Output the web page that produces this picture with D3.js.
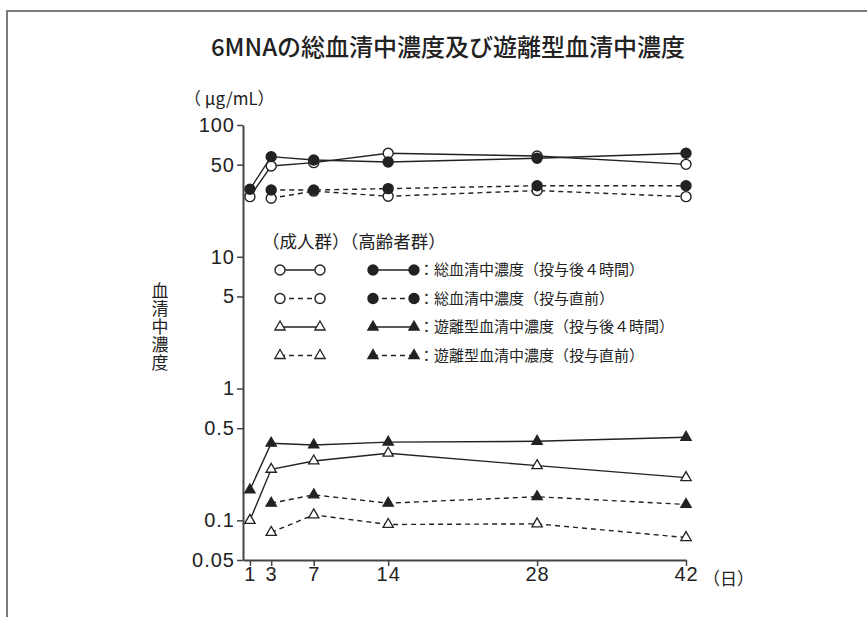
<!DOCTYPE html>
<html>
<head>
<meta charset="utf-8">
<script src="https://cdn.jsdelivr.net/npm/d3@7"></script>
<style>
  body{margin:0;background:#fff;}
  text{fill:#222;}
</style>
</head>
<body>
<svg id="chart" width="867" height="617"></svg>
<script>
// data
const days = [1, 3, 7, 14, 28, 42];
const daysPre = [3, 7, 14, 28, 42];
const adultTotal4h = [28.6, 48.9, 51.8, 61.0, 58.2, 50.3];
const elderTotal4h = [32.5, 57.5, 54.3, 52.4, 55.9, 61.0];
const adultTotalPre = [27.8, 31.5, 28.8, 31.8, 28.6];
const elderTotalPre = [32.1, 32.1, 32.9, 34.6, 34.6];
const adultFree4h = [0.100, 0.244, 0.282, 0.323, 0.260, 0.211];
const elderFree4h = [0.170, 0.385, 0.373, 0.392, 0.398, 0.427];
const adultFreePre = [0.081, 0.110, 0.093, 0.094, 0.074];
const elderFreePre = [0.135, 0.156, 0.135, 0.151, 0.132];
const yTicks = [0.05, 0.1, 0.5, 1, 5, 10, 50, 100];
const legendLabels = ['総血清中濃度（投与後４時間）','総血清中濃度（投与直前）','遊離型血清中濃度（投与後４時間）','遊離型血清中濃度（投与直前）'];

const series = [
  {x: days,    y: adultTotal4h,  shape:'circle',   fill:false, dash:false},
  {x: days,    y: elderTotal4h,  shape:'circle',   fill:true,  dash:false},
  {x: daysPre, y: adultTotalPre, shape:'circle',   fill:false, dash:true},
  {x: daysPre, y: elderTotalPre, shape:'circle',   fill:true,  dash:true},
  {x: days,    y: adultFree4h,   shape:'triangle', fill:false, dash:false},
  {x: days,    y: elderFree4h,   shape:'triangle', fill:true,  dash:false},
  {x: daysPre, y: adultFreePre,  shape:'triangle', fill:false, dash:true},
  {x: daysPre, y: elderFreePre,  shape:'triangle', fill:true,  dash:true}
];

const svg = d3.select('#chart');
const ink = '#222';
const cjk = '"Noto Sans CJK JP", sans-serif';
const num = '"Liberation Sans", Arial, sans-serif';

// frame
svg.append('rect').attr('x',7).attr('y',11).attr('width',900).attr('height',700)
  .attr('fill','none').attr('stroke','#7a7a7a').attr('stroke-width',2);

svg.append('text').attr('x',448).attr('y',56).attr('text-anchor','middle')
  .style('font-family',cjk).style('font-size','24px').style('font-weight','500')
  .text('6MNAの総血清中濃度及び遊離型血清中濃度');

const x = d3.scaleLinear().domain([0.35,42]).range([243,686]);
const y = d3.scaleLog().domain([0.05,100]).range([560,125]);

const gy = svg.append('g').attr('transform','translate(243,0)')
  .call(d3.axisLeft(y).tickValues(yTicks).tickFormat(d=>String(d)).tickSize(6).tickSizeOuter(0));
const gx = svg.append('g').attr('transform','translate(0,560)')
  .call(d3.axisBottom(x).tickValues(days).tickSize(6).tickSizeOuter(0));
[gy,gx].forEach(g=>{
  g.select('.domain').attr('stroke','#444').attr('stroke-width',2);
  g.selectAll('.tick line').attr('stroke','#444').attr('stroke-width',1.5);
  g.selectAll('.tick text').attr('fill',ink).style('font-family',num).style('letter-spacing','1px');
});
gy.selectAll('.tick text').style('font-size','20px').attr('x',-8);
gx.selectAll('.tick text').style('font-size','20px').attr('y',7);

svg.append('text').attr('x',703).attr('y',585).style('font-family',cjk).style('font-size','17px').text('（日）');
svg.append('text').attr('x',184).attr('y',105).style('font-family',cjk).style('font-size','17px').text('（ μg/mL）');

// vertical y title
svg.append('text').attr('x',160).attr('y',282)
  .style('writing-mode','vertical-rl').style('letter-spacing','1px')
  .style('font-family',cjk).style('font-size','17px').text('血清中濃度');

const tri = d3.symbol().type(d3.symbolTriangle).size(46);
function marker(g, cx, cy, s){
  if(s.shape==='circle'){
    g.append('circle').attr('cx',cx).attr('cy',cy).attr('r',5)
      .attr('fill',s.fill?ink:'#fff').attr('stroke',ink).attr('stroke-width',1.4);
  } else {
    g.append('path').attr('d',tri).attr('transform',`translate(${cx},${cy})`)
      .attr('fill',s.fill?ink:'#fff').attr('stroke',ink).attr('stroke-width',1.3);
  }
}

const line = d3.line().x(d=>x(d[0])).y(d=>y(d[1]));
const plot = svg.append('g');
series.forEach(s=>{
  const pts = s.x.map((d,i)=>[d,s.y[i]]);
  plot.append('path').attr('d',line(pts)).attr('fill','none').attr('stroke',ink)
    .attr('stroke-width',1.4).attr('stroke-dasharray',s.dash?'5,4':null);
});
series.forEach(s=>{
  const g = plot.append('g');
  s.x.forEach((d,i)=>marker(g, x(d), y(s.y[i]), s));
});

// legend
const lg = svg.append('g');
lg.append('text').attr('x',262).attr('y',248).style('font-family',cjk).style('font-size','17.5px')
  .text('（成人群）（高齢者群）');
legendLabels.forEach((lab,i)=>{
  const ly = 270 + i*28.5;
  const adult = series[[0,2,4,6][i]], elder = series[[1,3,5,7][i]];
  [[280,320,adult],[373,414,elder]].forEach(([a,b,s])=>{
    lg.append('line').attr('x1',a).attr('x2',b).attr('y1',ly).attr('y2',ly)
      .attr('stroke',ink).attr('stroke-width',1.4).attr('stroke-dasharray',s.dash?'5,4':null);
    marker(lg,a,ly,s); marker(lg,b,ly,s);
  });
  lg.append('text').attr('x',419).attr('y',ly+5).style('font-family',cjk).style('font-size','15px')
    .text('：'+lab);
});
</script>
</body>
</html>
